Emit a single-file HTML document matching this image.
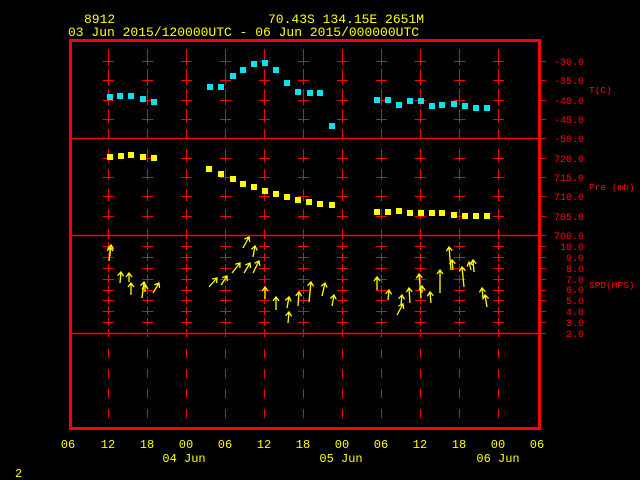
<!DOCTYPE html>
<html><head><meta charset="utf-8"><style>
html,body{margin:0;padding:0;background:#000;width:640px;height:480px;overflow:hidden}
svg{display:block}
text{font-family:"Liberation Mono",monospace}
</style></head><body>
<svg id="s" width="640" height="480" xmlns="http://www.w3.org/2000/svg">
<g fill="#ffff00" font-size="13">
<text x="84" y="23">8912</text>
<text x="268" y="23">70.43S  134.15E  2651M</text>
<text x="68" y="36">03 Jun 2015/120000UTC - 06 Jun 2015/000000UTC</text>
</g>
<g fill="#ffff00" font-size="12" text-anchor="middle">
<text x="68" y="448">06</text><text x="108" y="448">12</text><text x="147" y="448">18</text>
<text x="186" y="448">00</text><text x="225" y="448">06</text><text x="264" y="448">12</text>
<text x="303" y="448">18</text><text x="342" y="448">00</text><text x="381" y="448">06</text>
<text x="420" y="448">12</text><text x="459" y="448">18</text><text x="498" y="448">00</text>
<text x="537" y="448">06</text>
<text x="184" y="462">04 Jun</text><text x="341" y="462">05 Jun</text><text x="498" y="462">06 Jun</text>
</g>
<text x="15" y="477" fill="#ffff00" font-size="12">2</text>
<g fill="#ff0000" font-size="10" text-anchor="end">
<text x="584" y="65">-30.0</text><text x="584" y="84">-35.0</text><text x="584" y="104">-40.0</text>
<text x="584" y="123">-45.0</text><text x="584" y="142">-50.0</text>
<text x="584" y="162">720.0</text><text x="584" y="181">715.0</text><text x="584" y="200">710.0</text>
<text x="584" y="220">705.0</text><text x="584" y="239">700.0</text>
<text x="584" y="250">10.0</text><text x="584" y="261">9.0</text><text x="584" y="272">8.0</text>
<text x="584" y="283">7.0</text><text x="584" y="293">6.0</text><text x="584" y="304">5.0</text>
<text x="584" y="315">4.0</text><text x="584" y="326">3.0</text><text x="584" y="337">2.0</text>
</g>
<g fill="#ff0000" font-size="9.5">
<text x="589" y="93">T(C)</text><text x="589" y="190">Pre (mb)</text><text x="589" y="288">SPD(MPS)</text>
</g>
<g id="grid" stroke="#ff0000" stroke-width="1" fill="none"></g>
<g id="data"></g>
<rect x="70.5" y="40.5" width="469" height="388" fill="none" stroke="#ff0000" stroke-width="3"/>
</svg>
<script>
var NS="http://www.w3.org/2000/svg";
function el(p,n,a){var e=document.createElementNS(NS,n);for(var k in a)e.setAttribute(k,a[k]);p.appendChild(e);return e;}
var g=document.getElementById('grid'),d=document.getElementById('data');
[138,235,333].forEach(function(y){el(g,'line',{x1:70,x2:539,y1:y+.5,y2:y+.5,'stroke-width':1.5});});
var xs=[108,147,186,225,264,303,342,381,420,459,498];
var tT=[61,80,100,119],tP=[158,177,196,216],tS=[];
for(var i=0;i<9;i++)tS.push(Math.round(246+i*10.875));
var segs=[[49,65],[69,85],[89,105],[109,123],[129,139],[149,162],[169,180],[189,201],[209,220],[229,239]];
tS.forEach(function(y){segs.push([y-4,y+4]);});
[349,369,389,409].forEach(function(y){segs.push([y,y+9]);});
xs.forEach(function(x){
 segs.forEach(function(s){el(g,'line',{x1:x+.5,x2:x+.5,y1:s[0],y2:s[1]});});
 tT.concat(tP,tS).forEach(function(y){el(g,'line',{x1:x-5,x2:x+6,y1:y+.5,y2:y+.5});});
});
tT.concat([138],tP,[235],tS).forEach(function(y){el(g,'line',{x1:539,x2:546,y1:y+.5,y2:y+.5});});
var T=[[110,97],[120,96],[131,96],[143,99],[154,102],[210,87],[221,87],[233,76],[243,70],[254,64],[265,63],[276,70],[287,83],[298,92],[310,93],[320,93],[332,126],[377,100],[388,100],[399,105],[410,101],[421,101],[432,106],[442,105],[454,104],[465,106],[476,108],[487,108]];
T.forEach(function(p){el(d,'rect',{x:p[0]-3,y:p[1]-3,width:6,height:6,fill:'#00e5ee'});});
var P=[[110,157],[121,156],[131,155],[143,157],[154,158],[209,169],[221,174],[233,179],[243,184],[254,187],[265,191],[276,194],[287,197],[298,200],[309,202],[320,204],[332,205],[377,212],[388,212],[399,211],[410,213],[421,213],[432,213],[442,213],[454,215],[465,216],[476,216],[487,216]];
P.forEach(function(p){el(d,'rect',{x:p[0]-3,y:p[1]-3,width:6,height:6,fill:'#ffff00'});});
var W=[[109,261,111,245],[110,256,110,247],[120,283,121,272],[129,282,129,273],[131,295,131,283],[142,298,144,282],[145,292,145,285],[153,293,159,283],[209,287,217,278],[221,285,227,276],[232,273,240,263],[243,248,249,237],[244,273,250,263],[253,257,255,246],[253,273,259,261],[265,299,265,287],[276,310,276,297],[287,308,289,297],[288,323,289,312],[298,306,299,292],[309,302,311,282],[322,296,325,283],[332,306,334,295],[377,290,377,277],[388,300,389,290],[401,305,402,295],[397,315,403,304],[410,303,409,288],[421,298,419,274],[422,293,422,286],[431,303,430,292],[440,293,440,270],[451,270,449,247],[453,270,452,260],[464,287,462,267],[474,272,473,260],[471,270,469,262],[487,307,485,295],[483,298,482,288]];
W.forEach(function(w){
 var dx=w[2]-w[0],dy=w[3]-w[1],L=Math.sqrt(dx*dx+dy*dy),ux=dx/L,uy=dy/L,h=5;
 var a1=[w[2]-h*(ux*0.8-uy*0.6),w[3]-h*(uy*0.8+ux*0.6)],a2=[w[2]-h*(ux*0.8+uy*0.6),w[3]-h*(uy*0.8-ux*0.6)];
 el(d,'path',{d:'M'+w[0]+','+w[1]+'L'+w[2]+','+w[3]+'M'+a1+'L'+w[2]+','+w[3]+'L'+a2,stroke:'#ffff00','stroke-width':1.3,fill:'none'});
});
</script>
</body></html>
